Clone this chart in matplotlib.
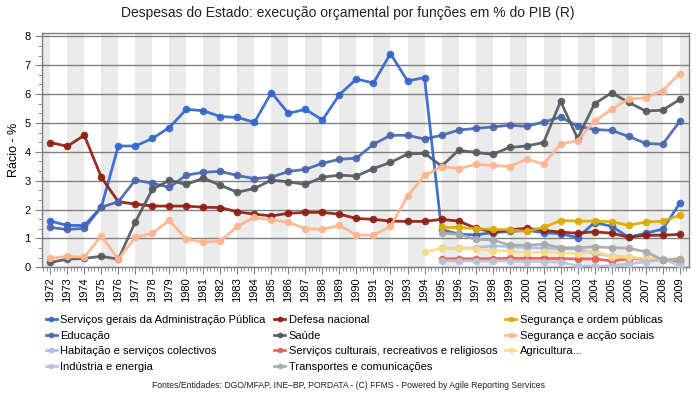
import numpy as np
import matplotlib
matplotlib.use("Agg")
import matplotlib.pyplot as plt
from matplotlib.ticker import MultipleLocator

plt.rcParams["font.family"] = ["Liberation Sans", "DejaVu Sans"]

years = list(range(1972, 2010))
na = np.nan

servicos_gerais = [1.60, 1.45, 1.45, 2.08, 4.20, 4.20, 4.46, 4.84, 5.47, 5.42, 5.22, 5.19, 5.02,
                   6.05, 5.33, 5.47, 5.10, 5.98, 6.52, 6.38, 7.40, 6.45, 6.57,
                   1.30, 1.15, 1.12, 1.20, 1.24, 1.28, 1.20, 1.16, 1.03, 1.55, 1.42, 1.04, 1.18, 1.32, 2.21]
defesa = [4.32, 4.19, 4.57, 3.12, 2.27, 2.19, 2.12, 2.12, 2.12, 2.08, 2.07, 1.92, 1.84,
          1.78, 1.87, 1.90, 1.90, 1.84, 1.69, 1.66, 1.60, 1.59, 1.59,
          1.66, 1.60, 1.36, 1.22, 1.30, 1.35, 1.28, 1.22, 1.18, 1.23, 1.18, 1.04, 1.11, 1.11, 1.14]
seg_ordem = [na] * 23 + [1.38, 1.38, 1.34, 1.31, 1.30, 1.24, 1.38, 1.62, 1.60, 1.60, 1.58, 1.45,
                         1.57, 1.59, 1.80]
educacao = [1.38, 1.31, 1.35, 2.08, 2.27, 3.02, 2.91, 2.77, 3.19, 3.29, 3.32, 3.18, 3.07,
            3.12, 3.32, 3.39, 3.60, 3.74, 3.78, 4.26, 4.57, 4.57, 4.44,
            4.57, 4.75, 4.81, 4.86, 4.92, 4.88, 5.03, 5.20, 4.89, 4.77, 4.74, 4.53, 4.29, 4.26, 5.05]
saude = [0.17, 0.28, 0.31, 0.38, 0.28, 1.57, 2.70, 3.01, 2.87, 3.09, 2.84, 2.60, 2.73,
         3.02, 2.96, 2.87, 3.12, 3.19, 3.16, 3.42, 3.63, 3.92, 3.95,
         3.50, 4.05, 3.98, 3.91, 4.15, 4.20, 4.32, 5.75, 4.46, 5.67, 6.04, 5.71, 5.41, 5.44, 5.81]
seg_accao = [0.31, 0.38, 0.35, 1.09, 0.28, 1.04, 1.18, 1.63, 0.97, 0.87, 0.90, 1.42, 1.73,
             1.64, 1.56, 1.34, 1.31, 1.45, 1.12, 1.11, 1.42, 2.46, 3.18,
             3.49, 3.42, 3.56, 3.53, 3.49, 3.74, 3.58, 4.26, 4.39, 5.06, 5.47, 5.83, 5.87, 6.12, 6.71]
habitacao = [na] * 23 + [0.66, 0.66, 0.68, 0.74, 0.72, 0.68, 0.66, 0.64, 0.62, 0.48, 0.38, 0.34,
                         0.30, 0.27, 0.22]
culturais = [na] * 23 + [0.29, 0.30, 0.29, 0.30, 0.31, 0.31, 0.31, 0.30, 0.29, 0.29, 0.22, 0.30,
                         0.28, 0.26, 0.22]
agricultura = [na] * 22 + [0.52, 0.66, 0.66, 0.65, 0.58, 0.57, 0.50, 0.53, 0.51, 0.47, 0.57, 0.37,
                           0.34, 0.30, 0.28, 0.28]
industria = [na] * 23 + [0.23, 0.22, 0.22, 0.22, 0.22, 0.20, 0.20, 0.18, 0.05, 0.03, 0.05, 0.12,
                         0.19, 0.27, 0.07]
transportes = [na] * 23 + [1.18, 1.15, 0.97, 0.95, 0.77, 0.76, 0.80, 0.68, 0.68, 0.71, 0.68, 0.66,
                           0.54, 0.25, 0.30]

series = [
    ("Serviços gerais da Administração Pública", servicos_gerais, "#3366CC"),
    ("Defesa nacional", defesa, "#8E1F10"),
    ("Segurança e ordem públicas", seg_ordem, "#DDAA00"),
    ("Educação", educacao, "#4A66AC"),
    ("Saúde", saude, "#555A62"),
    ("Segurança e acção sociais", seg_accao, "#FDB58E"),
    ("Habitação e serviços colectivos", habitacao, "#A5BDEB"),
    ("Serviços culturais, recreativos e religiosos", culturais, "#E8604C"),
    ("Agricultura...", agricultura, "#F7DC87"),
    ("Indústria e energia", industria, "#B7C3DE"),
    ("Transportes e comunicações", transportes, "#A9A9A9"),
]

fig = plt.figure(figsize=(6.96, 3.95), dpi=100)
ax = fig.add_axes([0.060, 0.3233, 0.930, 0.5937])

# alternating background bands
for y0 in range(1971, 2010, 2):
    ax.axvspan(y0, y0 + 1, color="#EBEBEB", lw=0, zorder=0)

for v in range(0, 9):
    ax.axhline(v, color="#808080", lw=1, zorder=1)

handles = []
for name, vals, col in series:
    h, = ax.plot(years, vals, color=col, lw=2, marker="o", markersize=5.5,
                 markeredgewidth=0, alpha=0.92, label=name, zorder=3)
    handles.append(h)

ax.set_xlim(1971.5, 2009.55)
ax.set_ylim(0, 8.12)
ax.set_xticks(years)
ax.set_xticklabels([str(y) for y in years])
ax.xaxis.set_minor_locator(MultipleLocator(0.2))
ax.set_yticks(range(0, 9))
ax.yaxis.set_minor_locator(MultipleLocator(1 / 3))
ax.tick_params(axis="x", which="major", labelrotation=90, labelsize=8, length=5,
               color="#808080", pad=2)
ax.tick_params(axis="x", which="minor", length=3, color="#808080")
ax.tick_params(axis="y", which="major", labelsize=8, length=5, color="#808080", pad=3)
ax.tick_params(axis="y", which="minor", length=3, color="#808080")
for s in ax.spines.values():
    s.set_color("#808080")
    s.set_linewidth(1)
ax.set_ylabel("Rácio - %", fontsize=9, labelpad=3)

fig.text(0.5, 0.968, "Despesas do Estado: execução orçamental por funções em % do PIB (R)",
         ha="center", va="center", fontsize=10, color="#222222")

# legend filled row by row
order = [0, 3, 6, 9, 1, 4, 7, 10, 2, 5, 8]
fig.legend([handles[i] for i in order], [series[i][0] for i in order],
           loc="upper left", bbox_to_anchor=(0.066, 0.203), ncol=3, frameon=False,
           fontsize=8, handlelength=1.0, handletextpad=0.3, columnspacing=0.75,
           labelspacing=0.52, markerscale=0.75, borderaxespad=0, borderpad=0)

fig.text(0.5, 0.023, "Fontes/Entidades: DGO/MFAP, INE–BP, PORDATA - (C) FFMS - Powered by Agile Reporting Services",
         ha="center", va="center", fontsize=6.2, color="#222222")

fig.savefig("out.png", dpi=100)
